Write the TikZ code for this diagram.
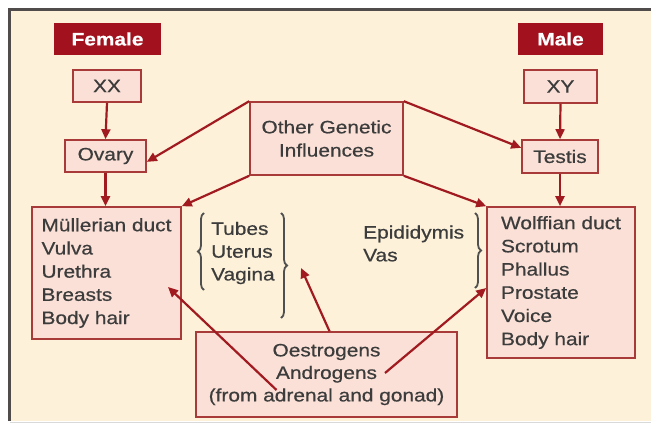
\documentclass[tikz,border=0pt]{standalone}
\usepackage{fontspec}
\setmainfont[FakeStretch=1.16,FakeBold=0.6]{Liberation Sans}
\usetikzlibrary{arrows.meta,calc,decorations.pathreplacing}
\definecolor{cream}{RGB}{253,241,217}
\definecolor{boxfill}{RGB}{250,224,214}
\definecolor{boxline}{RGB}{168,58,58}
\definecolor{arrowc}{RGB}{160,26,32}
\definecolor{headfill}{RGB}{161,18,30}
\definecolor{txt}{RGB}{60,60,60}
\definecolor{frame}{RGB}{80,76,76}
\tikzset{
  pinkbox/.style={draw=boxline, fill=boxfill, line width=1.6pt, inner sep=0pt,
    text=txt, font=\fontsize{18}{23.2}\selectfont, align=left},
  headbox/.style={fill=headfill, inner sep=0pt, text=white,
    font=\fontsize{18}{22}\selectfont\bfseries},
  plain/.style={text=txt, inner sep=0pt, font=\fontsize{18}{22.8}\selectfont, align=left},
  arr/.style={draw=arrowc, line width=2.2pt, -{Triangle[length=10pt,width=9pt]}},
  brc/.style={draw=txt!90, line width=1.8pt, decorate,
    decoration={brace, amplitude=6pt}}
}
\begin{document}
\begin{tikzpicture}[x=1pt,y=-1pt]
\useasboundingbox (0,0) rectangle (651,425);
\fill[white] (0,0) rectangle (651,425);
\fill[cream] (10,10) rectangle (651,421);
\draw[frame, line width=3pt] (9,421) -- (9,9.5) -- (651,9.5);
\draw[black!15, line width=1pt] (10,422) -- (651,422);

\node[headbox, minimum width=107pt, minimum height=32pt] (female) at (107.5,39) {Female};
\node[headbox, minimum width=85pt, minimum height=32pt] (male) at (560.5,39) {Male};

\node[pinkbox, minimum width=68pt, minimum height=32pt, align=center] (xx) at (107,86) {XX};
\node[pinkbox, minimum width=73pt, minimum height=33pt, align=center] (xy) at (560.5,86.5) {XY};
\node[pinkbox, minimum width=81pt, minimum height=32pt, align=center] (ovary) at (105.5,156) {Ovary};
\node[pinkbox, minimum width=76pt, minimum height=33pt, align=center] (testis) at (560,156.5) {Testis};
\node[pinkbox, minimum width=153pt, minimum height=73pt, align=center] (other) at (326.5,138.5) {Other Genetic\\Influences};

\node[pinkbox, minimum width=149pt, minimum height=132pt] (mull) at (106.5,273)
  {M\"ullerian duct\\Vulva\\Urethra\\Breasts\\Body hair};
\node[pinkbox, minimum width=148pt, minimum height=151pt] (wolf) at (561,282.5)
  {Wolffian duct\\Scrotum\\Phallus\\Prostate\\Voice\\Body hair};
\node[pinkbox, minimum width=261pt, minimum height=85pt, align=center,
  font=\fontsize{18}{22.5}\selectfont] (oest) at (326.5,374.5)
  {Oestrogens\\Androgens\\(from adrenal and gonad)};

\node[plain, anchor=west] (tubes) at (211,253) {Tubes\\Uterus\\Vagina};
\node[plain, anchor=west] (epi) at (363,243.5) {Epididymis\\Vas};

\coordinate (lbA) at (204,290);
\coordinate (lbB) at (204,213);
\coordinate (rbA) at (281,213);
\coordinate (rbB) at (281,318);
\coordinate (ebA) at (475,213);
\coordinate (ebB) at (475,288);
\draw[brc] (lbA) -- (lbB);
\draw[brc] (rbA) -- (rbB);
\draw[brc] (ebA) -- (ebB);

\draw[arr] (xx.south) -- (ovary.north);
\draw[arr] (xy.south) -- (testis.north);
\draw[arr] (ovary.south) -- (ovary.south |- mull.north);
\draw[arr] (testis.south) -- (testis.south |- wolf.north);

\draw[arr] (other.north west) -- ($(ovary.east)!0.35!(ovary.south east)$);
\draw[arr] (other.south west) -- (mull.north east);
\draw[arr] (other.north east) -- ($(testis.west)!0.5!(testis.north west)$);
\draw[arr] (other.south east) -- (wolf.north west);

\coordinate (o1) at ($(oest.center)+(-50,15.5)$);
\coordinate (o2) at ($(oest.north)+(3,0)$);
\coordinate (o3) at ($(oest.center)+(58.5,-1.5)$);
\coordinate (t1) at (168,287);
\coordinate (t2) at (301,268);
\coordinate (t3) at ($(wolf.west)+(0,5.5)$);
\draw[arr] (o1) -- (t1);
\draw[arr] (o2) -- (t2);
\draw[arr] (o3) -- (t3);
\end{tikzpicture}
\end{document}
